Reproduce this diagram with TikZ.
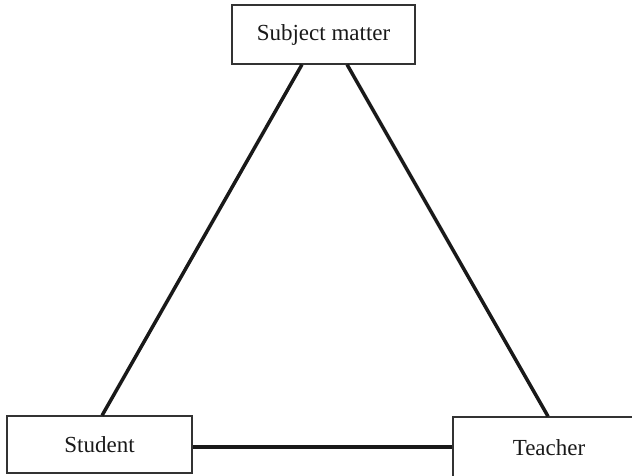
\documentclass[tikz,border=0pt]{standalone}
\usepackage{fontspec}
\setmainfont{Liberation Serif}
\usetikzlibrary{calc}
\begin{document}
\begin{tikzpicture}[x=1pt,y=-1pt,
  box/.style={draw=black!80,line width=1.2pt,rectangle,inner sep=0pt,
    font=\fontsize{23}{27}\selectfont,text=black!90},
  link/.style={line width=3.5pt,black!90}]
\useasboundingbox (0,0) rectangle (632,475);
\node[box,minimum width=183pt,minimum height=59pt] (subj) at (323.5,34.5) {Subject matter};
\node[box,minimum width=185pt,minimum height=57pt] (stu) at (99.5,444.5) {Student};
\node[box,minimum width=192pt,minimum height=62pt] (tea) at (549,448) {Teacher};
\draw[link] ($(subj.south west)!0.383!(subj.south east)$) -- ($(stu.north west)!0.514!(stu.north east)$);
\draw[link] ($(subj.south west)!0.628!(subj.south east)$) -- ($(tea.north west)!0.495!(tea.north east)$);
\draw[link] ([yshift=-2.5pt]stu.east) -- ([yshift=-2.5pt]stu.east -| tea.west);
\end{tikzpicture}
\end{document}
